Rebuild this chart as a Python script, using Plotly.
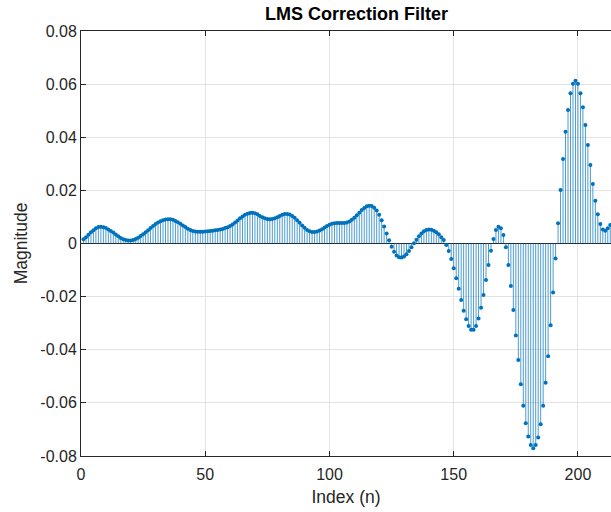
import plotly.graph_objects as go

# Filter tap index and coefficient values
n_index = list(range(1, 214))
coeffs = [
    0.0016, 0.0024, 0.0033, 0.0042, 0.0050, 0.0057, 0.0062, 0.0063, 0.0061, 0.0058,
    0.0053, 0.0047, 0.0041, 0.0034, 0.0027, 0.0021, 0.0016, 0.0013, 0.0011, 0.0011,
    0.0013, 0.0017, 0.0022, 0.0028, 0.0035, 0.0042, 0.0050, 0.0058, 0.0066, 0.0073,
    0.0079, 0.0084, 0.0088, 0.0090, 0.0091, 0.0091, 0.0089, 0.0085, 0.0080, 0.0074,
    0.0068, 0.0062, 0.0056, 0.0051, 0.0047, 0.0045, 0.0044, 0.0044, 0.0044, 0.0045,
    0.0046, 0.0047, 0.0048, 0.0050, 0.0051, 0.0053, 0.0055, 0.0058, 0.0061, 0.0066,
    0.0072, 0.0079, 0.0087, 0.0095, 0.0102, 0.0108, 0.0112, 0.0115, 0.0116, 0.0114,
    0.0110, 0.0104, 0.0099, 0.0095, 0.0092, 0.0091, 0.0092, 0.0095, 0.0099, 0.0104,
    0.0108, 0.0111, 0.0111, 0.0109, 0.0104, 0.0097, 0.0088, 0.0078, 0.0068, 0.0059,
    0.0051, 0.0046, 0.0043, 0.0043, 0.0045, 0.0049, 0.0054, 0.0060, 0.0066, 0.0071,
    0.0074, 0.0076, 0.0077, 0.0077, 0.0077, 0.0077, 0.0079, 0.0083, 0.0089, 0.0097,
    0.0106, 0.0116, 0.0126, 0.0134, 0.0140, 0.0142, 0.0141, 0.0135, 0.0124, 0.0108,
    0.0088, 0.0064, 0.0038, 0.0012, -0.0012, -0.0031, -0.0045, -0.0052, -0.0053, -0.0049,
    -0.0040, -0.0028, -0.0014, 0.0001, 0.0014, 0.0027, 0.0038, 0.0046, 0.0051, 0.0053,
    0.0052, 0.0048, 0.0042, 0.0035, 0.0024, 0.0013, -0.0006, -0.0028, -0.0058, -0.0093,
    -0.0131, -0.0170, -0.0213, -0.0253, -0.0285, -0.0311, -0.0325, -0.0325, -0.0311, -0.0282,
    -0.0242, -0.0194, -0.0137, -0.0081, -0.0027, 0.0017, 0.0051, 0.0063, 0.0057, 0.0032,
    -0.0014, -0.0081, -0.0160, -0.0250, -0.0346, -0.0439, -0.0530, -0.0611, -0.0677, -0.0727,
    -0.0759, -0.0771, -0.0759, -0.0730, -0.0680, -0.0611, -0.0524, -0.0424, -0.0308, -0.0184,
    -0.0056, 0.0076, 0.0201, 0.0318, 0.0421, 0.0503, 0.0566, 0.0601, 0.0613, 0.0601,
    0.0566, 0.0513, 0.0446, 0.0371, 0.0296, 0.0224, 0.0161, 0.0110, 0.0073, 0.0053,
    0.0048, 0.0057, 0.0070,
]

x_ticks = [0, 50, 100, 150, 200]
y_ticks = [-0.08, -0.06, -0.04, -0.02, 0, 0.02, 0.04, 0.06, 0.08]
y_tick_text = ["-0.08", "-0.06", "-0.04", "-0.02", "0", "0.02", "0.04", "0.06", "0.08"]

BLUE = "#0072BD"
INK = "#262626"
FONT = "Liberation Sans, Arial, sans-serif"

# Vertical stems from the baseline to each coefficient
stem_x, stem_y = [], []
for n, v in zip(n_index, coeffs):
    stem_x += [n, n, None]
    stem_y += [0, v, None]

fig = go.Figure()
fig.add_trace(go.Scatter(
    x=stem_x, y=stem_y, mode="lines",
    line=dict(color="rgba(0,114,189,0.7)", width=1),
    hoverinfo="skip", showlegend=False,
))
fig.add_trace(go.Scatter(
    x=n_index, y=coeffs, mode="markers",
    marker=dict(color=BLUE, size=4, line=dict(width=0)),
    showlegend=False,
))

fig.update_layout(
    width=611, height=512,
    margin=dict(l=81, r=0, t=31, b=56),
    paper_bgcolor="white", plot_bgcolor="white",
    font=dict(family=FONT, size=16, color=INK),
    title=dict(
        text="<b>LMS Correction Filter</b>",
        x=0.52, xref="paper", xanchor="center",
        y=1, yref="container", yanchor="top", pad=dict(t=7),
        font=dict(size=18, color="#000000"),
    ),
)
fig.update_xaxes(
    range=[0, 213.3], tickvals=x_ticks,
    ticks="inside", ticklen=5, tickcolor=INK,
    ticklabelstandoff=4,
    showline=True, linecolor=INK, linewidth=1, mirror="ticks",
    showgrid=True, gridcolor="#e3e3e3", gridwidth=1,
    zeroline=False,
    title=dict(text="Index (n)", font=dict(size=17.5), standoff=8),
)
fig.update_yaxes(
    range=[-0.08, 0.08], tickvals=y_ticks, ticktext=y_tick_text,
    ticks="inside", ticklen=5, tickcolor=INK,
    showline=True, linecolor=INK, linewidth=1,
    showgrid=True, gridcolor="#e3e3e3", gridwidth=1,
    zeroline=True, zerolinecolor=INK, zerolinewidth=1,
    title=dict(text="Magnitude", font=dict(size=17.5), standoff=8),
)

fig.write_html("out.html")
